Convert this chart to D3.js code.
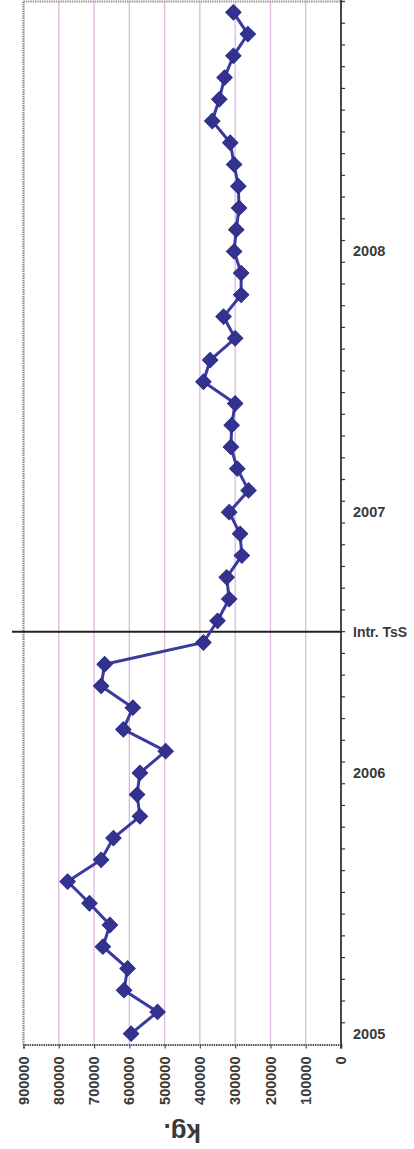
<!DOCTYPE html>
<html>
<head>
<meta charset="utf-8">
<script src="https://cdn.jsdelivr.net/npm/d3@7/dist/d3.min.js"></script>
<style>
  html, body { margin: 0; padding: 0; background: #fff; }
  svg { display: block; }
</style>
</head>
<body>
<script>
// ---- data (index 0 = Jan 2005, bottom of chart) ----
const years = [2005, 2006, 2007, 2008];
const months = [];
years.forEach(yr => { for (let m = 1; m <= 12; m++) months.push(yr + "-" + String(m).padStart(2, "0")); });

const values = [
  595000, 520000, 615000, 605000, 675000, 655000, 713000, 775000, 680000, 645000, 570000, 578000,
  570000, 497000, 617000, 590000, 680000, 670000, 390000, 350000, 317000, 324000, 281000, 286000,
  317000, 262000, 294000, 312000, 310000, 300000, 390000, 371000, 300000, 333000, 283000, 283000,
  303000, 297000, 289000, 291000, 303000, 314000, 365000, 345000, 330000, 305000, 264000, 305000
];

const yearLabels = ["2005", "2006", "2007", "2008"];
const yearLabelMonths = ["2005-01", "2006-01", "2007-01", "2008-01"];
const kgTicks = [0, 100000, 200000, 300000, 400000, 500000, 600000, 700000, 800000, 900000];
const markerLabel = "Intr. TsS";
const markerAfter = "2006-07"; // line drawn between Jul and Aug 2006
const axisTitle = "kg.";

(function () {
// ---- layout ----
const W = 414, H = 1149;
const pL = 23.5, pR = 341, pT = 1.5, pB = 1044.5;

const svg = d3.select("body").append("svg").attr("width", W).attr("height", H);

const x = d3.scaleLinear().domain([900000, 0]).range([pL, pR]);
const y = d3.scaleBand().domain(months).range([pB, pT]).padding(0);

// gridlines
svg.append("g").selectAll("line")
  .data(kgTicks.filter(v => v > 0 && v < 900000))
  .join("line")
  .attr("x1", d => x(d)).attr("x2", d => x(d))
  .attr("y1", pT).attr("y2", pB)
  .attr("stroke", "#dfb6dc").attr("stroke-width", 1.3);

// plot border (left, top) gray textured
svg.append("line").attr("x1", pL).attr("x2", pL).attr("y1", pT).attr("y2", pB)
  .attr("stroke", "#8a8a8a").attr("stroke-width", 2.2).attr("stroke-dasharray", "1.5,0.8");
svg.append("line").attr("x1", pL).attr("x2", pR).attr("y1", pT).attr("y2", pT)
  .attr("stroke", "#9a9a9a").attr("stroke-width", 2).attr("stroke-dasharray", "1.5,0.8");

// bottom axis (kg)
const xAxis = d3.axisBottom(x).tickValues(kgTicks).tickSize(4).tickFormat("");
const gx = svg.append("g").attr("transform", `translate(0,${pB})`).call(xAxis);
gx.select(".domain").attr("stroke", "#555").attr("stroke-width", 2).attr("stroke-dasharray", "1.5,0.8");
gx.selectAll(".tick line").attr("stroke", "#555").attr("stroke-width", 1.2);

svg.append("g").selectAll("text")
  .data(kgTicks).join("text")
  .attr("transform", d => `translate(${x(d)},${pB + 12}) rotate(-90)`)
  .attr("text-anchor", "end")
  .attr("dy", "0.35em")
  .attr("font-family", "'Liberation Sans', Arial, sans-serif")
  .attr("font-weight", "bold")
  .attr("font-size", 14.5)
  .attr("fill", "#3a3a3a")
  .text(d => d);

// axis title upside down
svg.append("text")
  .attr("transform", `translate(${(pL + pR) / 2},1124) rotate(180)`)
  .attr("text-anchor", "middle")
  .attr("font-family", "'Liberation Sans', Arial, sans-serif")
  .attr("font-weight", "bold")
  .attr("font-size", 26)
  .attr("fill", "#3a3a3a")
  .text(axisTitle);

// right axis (time)
const boundaries = months.map(m => y(m)).concat([pT]);
svg.append("line").attr("x1", pR).attr("x2", pR).attr("y1", pT - 1.5).attr("y2", pB + 4)
  .attr("stroke", "#333").attr("stroke-width", 1.8);
svg.append("g").selectAll("line")
  .data(boundaries).join("line")
  .attr("x1", pR).attr("x2", pR + 4)
  .attr("y1", d => d).attr("y2", d => d)
  .attr("stroke", "#333").attr("stroke-width", 1.2);

svg.append("g").selectAll("text")
  .data(yearLabels).join("text")
  .attr("x", 353)
  .attr("y", (d, i) => y(yearLabelMonths[i]) + y.bandwidth() / 2)
  .attr("dy", "0.35em")
  .attr("font-family", "'Liberation Sans', Arial, sans-serif")
  .attr("font-weight", "bold")
  .attr("font-size", 14.5)
  .attr("fill", "#3a3a3a")
  .text(d => d);

// event line
const evY = y(markerAfter);
svg.append("line").attr("x1", 12).attr("x2", pR).attr("y1", evY).attr("y2", evY)
  .attr("stroke", "#222").attr("stroke-width", 2);
svg.append("text")
  .attr("x", 353).attr("y", evY)
  .attr("dy", "0.35em")
  .attr("font-family", "'Liberation Sans', Arial, sans-serif")
  .attr("font-weight", "bold")
  .attr("font-size", 14)
  .attr("fill", "#3a3a3a")
  .text(markerLabel);

// series line
const pts = months.map((m, i) => [x(values[i]), y(m) + y.bandwidth() / 2]);
svg.append("path")
  .attr("d", d3.line()(pts))
  .attr("fill", "none")
  .attr("stroke", "#3a3aa0")
  .attr("stroke-width", 3);

// diamond markers
const sym = d3.symbol().type(d3.symbolSquare).size(118);
svg.append("g").selectAll("path")
  .data(pts).join("path")
  .attr("transform", d => `translate(${d[0]},${d[1]}) rotate(45)`)
  .attr("d", sym)
  .attr("fill", "#33338f")
  .attr("stroke", "#2c2c88")
  .attr("stroke-width", 1);
})();
</script>
</body>
</html>
